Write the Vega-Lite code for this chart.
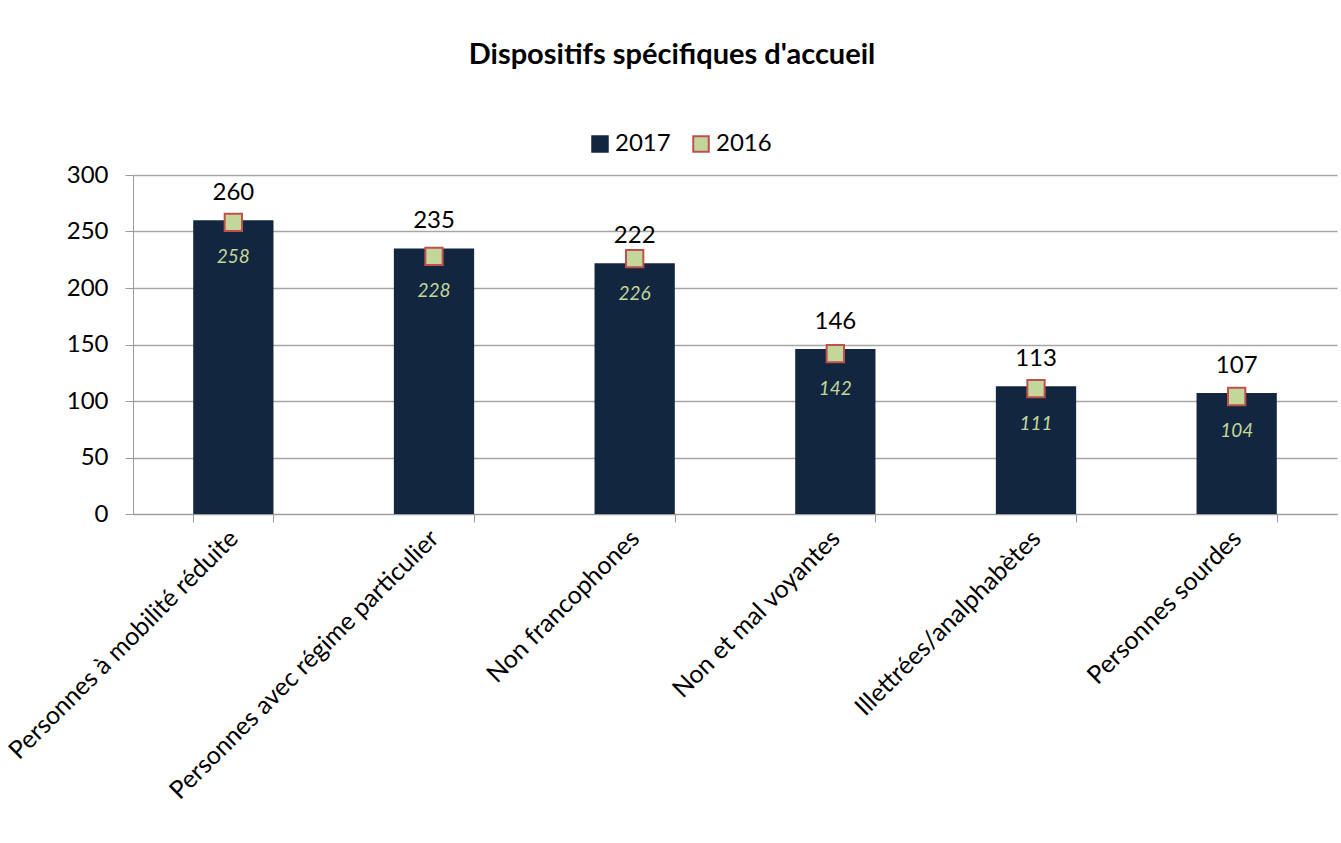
{
  "$schema": "https://vega.github.io/schema/vega-lite/v6.json",
  "autosize": "none",
  "width": 1204,
  "height": 339,
  "padding": {"left": 133, "top": 175, "right": 4, "bottom": 329},
  "background": "white",
  "config": {
    "font": "Lato",
    "view": {"stroke": null}
  },
  "title": {
    "text": "Dispositifs spécifiques d'accueil",
    "fontSize": 29,
    "fontWeight": "bold",
    "font": "Lato",
    "color": "black",
    "anchor": "middle",
    "dx": -63,
    "offset": 62
  },
  "data": {
    "values": [
      {"cat": "Personnes à mobilité réduite", "v2017": 260, "v2016": 258},
      {"cat": "Personnes avec régime particulier", "v2017": 235, "v2016": 228},
      {"cat": "Non francophones", "v2017": 222, "v2016": 226},
      {"cat": "Non et mal voyantes", "v2017": 146, "v2016": 142},
      {"cat": "Illettrées/analphabètes", "v2017": 113, "v2016": 111},
      {"cat": "Personnes sourdes", "v2017": 107, "v2016": 104}
    ]
  },
  "encoding": {
    "x": {
      "field": "cat",
      "type": "nominal",
      "sort": null,
      "scale": {"paddingInner": 0.6, "paddingOuter": 0.3},
      "axis": {
        "title": null,
        "labelAngle": -45,
        "labelAlign": "right",
        "labelBaseline": "middle",
        "labelFontSize": 25,
        "labelColor": "black",
        "labelPadding": 12,
        "tickBand": "extent",
        "tickSize": 8,
        "tickColor": "#9a9a9a",
        "domainColor": "#9a9a9a",
        "labelLimit": 600
      }
    }
  },
  "layer": [
    {
      "mark": {"type": "bar"},
      "encoding": {
        "y": {
          "field": "v2017",
          "type": "quantitative",
          "scale": {"domain": [0, 300]},
          "axis": {
            "title": null,
            "values": [0, 50, 100, 150, 200, 250, 300],
            "labelFontSize": 24,
            "labelColor": "black",
            "labelPadding": 17,
            "tickSize": 8,
            "tickColor": "#9a9a9a",
            "domainColor": "#9a9a9a",
            "gridColor": "#a6a6a6",
            "gridWidth": 1.5
          }
        },
        "color": {
          "datum": "2017",
          "type": "nominal",
          "scale": {"domain": ["2017", "2016"], "range": ["#13263f", "#c4d79b"]},
          "legend": {
            "title": null,
            "orient": "none",
            "direction": "horizontal",
            "legendX": 455,
            "legendY": -43,
            "symbolType": "square",
            "symbolSize": 240,
            "labelFontSize": 24,
            "labelColor": "black",
            "labelOffset": 3,
            "columnPadding": 18,
            "symbolOpacity": 1,
            "symbolStrokeWidth": 2,
            "encode": {
              "symbols": {
                "update": {
                  "stroke": [
                    {"test": "datum.value === '2016'", "value": "#c0504d"},
                    {"value": "#13263f"}
                  ]
                }
              }
            }
          }
        }
      }
    },
    {
      "mark": {"type": "point", "shape": "square", "filled": true, "size": 300, "stroke": "#c0504d", "strokeWidth": 2, "opacity": 1},
      "encoding": {
        "y": {"field": "v2016", "type": "quantitative"},
        "color": {"datum": "2016", "type": "nominal"}
      }
    },
    {
      "mark": {"type": "text", "fontSize": 24, "color": "black", "baseline": "alphabetic", "dy": -20},
      "encoding": {
        "y": {"field": "v2017", "type": "quantitative"},
        "text": {"field": "v2017", "type": "quantitative"}
      }
    },
    {
      "mark": {"type": "text", "fontSize": 19, "fontStyle": "italic", "color": "#c4d79b", "baseline": "middle", "dy": 35},
      "encoding": {
        "y": {"field": "v2016", "type": "quantitative"},
        "text": {"field": "v2016", "type": "quantitative"}
      }
    }
  ]
}
